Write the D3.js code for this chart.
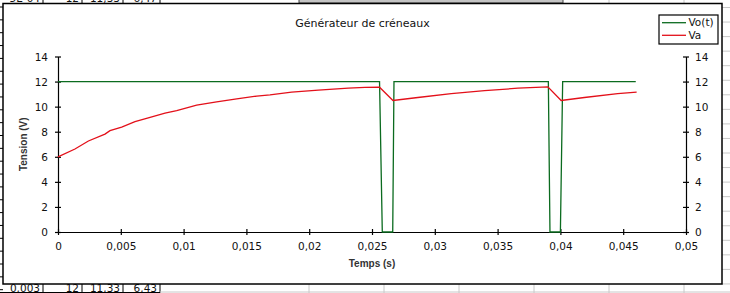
<!DOCTYPE html>
<html>
<head>
<meta charset="utf-8">
<script src="https://cdn.jsdelivr.net/npm/d3@7"></script>
<style>
  body { margin: 0; background: #fff; overflow: hidden; }
  #graf { width: 730px; height: 293px; }
  text { font-family: 'DejaVu Sans', Verdana, sans-serif; fill: #111; }
  .eje path, .eje line { stroke: #000; stroke-width: 1.2px; }
  .eje text { font-size: 10.5px; }
</style>
</head>
<body>
<div id="graf"></div>
<script>
// I.

// señal cuadrada Vo(t)
tiempoVo = [0, 0.0256, 0.02582, 0.02665, 0.02675, 0.03904, 0.03917, 0.04, 0.04018, 0.046]
valorVo  = [12, 12, 0, 0, 12, 12, 0, 0, 12, 12]

// tension Va (carga y descarga)
tiempoVa = [0, 0.00135, 0.00242, 0.00374, 0.00414, 0.00507, 0.00613, 0.00719, 0.00852, 0.00945,
            0.01104, 0.01263, 0.01423, 0.01582, 0.01688, 0.0186, 0.02073, 0.02311, 0.02444, 0.0256,
            0.02667, 0.02865, 0.03131, 0.03396, 0.03662, 0.039, 0.04006, 0.04191, 0.04456, 0.04607]
valorVa  = [6.0, 6.62, 7.26, 7.81, 8.08, 8.37, 8.80, 9.11, 9.49, 9.69,
            10.12, 10.38, 10.62, 10.84, 10.94, 11.16, 11.32, 11.48, 11.53, 11.55,
            10.49, 10.73, 11.04, 11.28, 11.47, 11.58, 10.49, 10.73, 11.04, 11.16]

ticksX = [0, 0.005, 0.01, 0.015, 0.02, 0.025, 0.03, 0.035, 0.04, 0.045, 0.05]
ticksY = [0, 2, 4, 6, 8, 10, 12, 14]

series  = ['Vo(t)', 'Va']
colores = ['#0b6b1f', '#e3101a']

// celdas de la hoja que se asoman arriba y abajo
celdasArriba = ['5E-04', '12', '11,33', '6,47']
celdasAbajo  = ['0,003', '12', '11,33', '6,43']

// II. Configuración
graf = d3.select('#graf')
ancho_total = 730
alto_total = 293

svg = graf.append('svg')
          .attr('width', ancho_total)
          .attr('height', alto_total)

// escalas
x = d3.scaleLinear()
      .domain([0, 0.05])
      .range([58, 686])
y = d3.scaleLinear()
      .domain([0, 14])
      .range([232, 56.5])

coma = d3.format('')
formato = d => String(d).replace('.', ',')

// III. Fondo tipo hoja de calculo
hoja = svg.append('g')

// columnas de celdas (borde negro a la izquierda)
colsX = [43, 82, 123, 160]
finCelda = [40, 79, 120, 157]
celdasArriba.forEach((c, i) => {
  hoja.append('text').attr('x', finCelda[i]).attr('y', 2.3)
      .attr('text-anchor', 'end').style('font-size', '10.5px').text(c)
  hoja.append('text').attr('x', finCelda[i]).attr('y', 291.5)
      .attr('text-anchor', 'end').style('font-size', '10.5px').text(celdasAbajo[i])
})
colsX.forEach(cx => {
  hoja.append('line').attr('x1', cx).attr('x2', cx).attr('y1', 0).attr('y2', 4)
      .style('stroke', '#000')
  hoja.append('line').attr('x1', cx).attr('x2', cx).attr('y1', 284).attr('y2', 293)
      .style('stroke', '#000')
})
hoja.append('line').attr('x1', 0).attr('x2', 160).attr('y1', 292.5).attr('y2', 292.5)
    .style('stroke', '#000')

// lineas grises de la derecha y de abajo
for (i = 0; i < 20; i++) {
  yy = 7.5 + i * 14.55
  hoja.append('line').attr('x1', 722).attr('x2', 730).attr('y1', yy).attr('y2', yy)
      .style('stroke', '#c8c8c8')
}
;[309, 384, 459, 534, 609, 684].forEach(cx => {
  hoja.append('line').attr('x1', cx).attr('x2', cx).attr('y1', 284).attr('y2', 293)
      .style('stroke', '#c8c8c8')
  hoja.append('line').attr('x1', cx).attr('x2', cx).attr('y1', 0).attr('y2', 3)
      .style('stroke', '#c8c8c8')
})
hoja.append('line').attr('x1', 160).attr('x2', 730).attr('y1', 292).attr('y2', 292)
    .style('stroke', '#c8c8c8')

// marcas de filas a la izquierda
for (i = 0; i < 23; i++) {
  yy = 7 + i * 12.85
  hoja.append('line').attr('x1', 0).attr('x2', 3).attr('y1', yy).attr('y2', yy)
      .style('stroke', '#000')
}

// caja gris de arriba
hoja.append('rect').attr('x', 299).attr('y', -2).attr('width', 264).attr('height', 5)
    .style('fill', '#c4c4c4').style('stroke', '#444')

// marco del grafico
svg.append('rect')
   .attr('x', 3).attr('y', 3.5).attr('width', 719).attr('height', 280.5)
   .style('fill', '#fff').style('stroke', '#000').style('stroke-width', 1.5)

// IV. Ejes
g = svg.append('g')

xAxisGroup = g.append('g').attr('class', 'eje').attr('transform', `translate(0, ${y(0)})`)
xAxisGroup.call(d3.axisBottom(x).tickValues(ticksX).tickSize(3).tickSizeOuter(0).tickFormat(formato))
xAxisGroup.selectAll('.tick line').attr('y1', -3)
xAxisGroup.selectAll('text').attr('dy', null).attr('y', 17.5)

yAxisGroup = g.append('g').attr('class', 'eje').attr('transform', `translate(${x(0)}, 0)`)
yAxisGroup.call(d3.axisLeft(y).tickValues(ticksY).tickSize(3).tickSizeOuter(0))
yAxisGroup.selectAll('.tick line').attr('x1', 3)
yAxisGroup.selectAll('text').attr('x', -10).attr('dy', '0.36em')

y2AxisGroup = g.append('g').attr('class', 'eje').attr('transform', `translate(${x(0.05)}, 0)`)
y2AxisGroup.call(d3.axisRight(y).tickValues(ticksY).tickSize(3).tickSizeOuter(0))
y2AxisGroup.selectAll('.tick line').attr('x1', -3)
y2AxisGroup.selectAll('text').attr('x', 9).attr('dy', '0.36em')

// titulos
svg.append('text')
   .attr('x', 362.5).attr('y', 27)
   .attr('text-anchor', 'middle')
   .style('font-size', '11px')
   .text('Générateur de créneaux')

svg.append('text')
   .attr('x', 372).attr('y', 266.5)
   .attr('text-anchor', 'middle')
   .style('font-family', "'Liberation Sans', Arial, sans-serif")
   .style('font-weight', 'bold')
   .style('font-size', '10px')
   .style('fill', '#333')
   .text('Temps (s)')

svg.append('text')
   .attr('transform', `translate(27, ${(y(0) + y(14)) / 2}) rotate(-90)`)
   .attr('text-anchor', 'middle')
   .style('font-family', "'Liberation Sans', Arial, sans-serif")
   .style('font-weight', 'bold')
   .style('font-size', '10px')
   .style('fill', '#333')
   .text('Tension (V)')

// V. Curvas
lineaVo = d3.line().x((d, i) => x(tiempoVo[i])).y(d => y(d))
lineaVa = d3.line().x((d, i) => x(tiempoVa[i])).y(d => y(d))

g.append('path')
 .attr('d', lineaVo(valorVo))
 .style('fill', 'none').style('stroke', colores[0]).style('stroke-width', 1.3)

g.append('path')
 .attr('d', lineaVa(valorVa))
 .style('fill', 'none').style('stroke', colores[1]).style('stroke-width', 1.3)

// VI. Leyenda
leyenda = svg.append('g')
leyenda.append('rect')
       .attr('x', 659).attr('y', 15).attr('width', 59).attr('height', 29)
       .style('fill', '#fff').style('stroke', '#000').style('stroke-width', 1.2)
series.forEach((s, i) => {
  ly = 22.7 + i * 12.6
  leyenda.append('line')
         .attr('x1', 662).attr('x2', 686).attr('y1', ly).attr('y2', ly)
         .style('stroke', colores[i]).style('stroke-width', 1.3)
  leyenda.append('text')
         .attr('x', 688.5).attr('y', ly).attr('dy', '0.36em')
         .style('font-size', '10.5px')
         .text(s)
})
</script>
</body>
</html>
